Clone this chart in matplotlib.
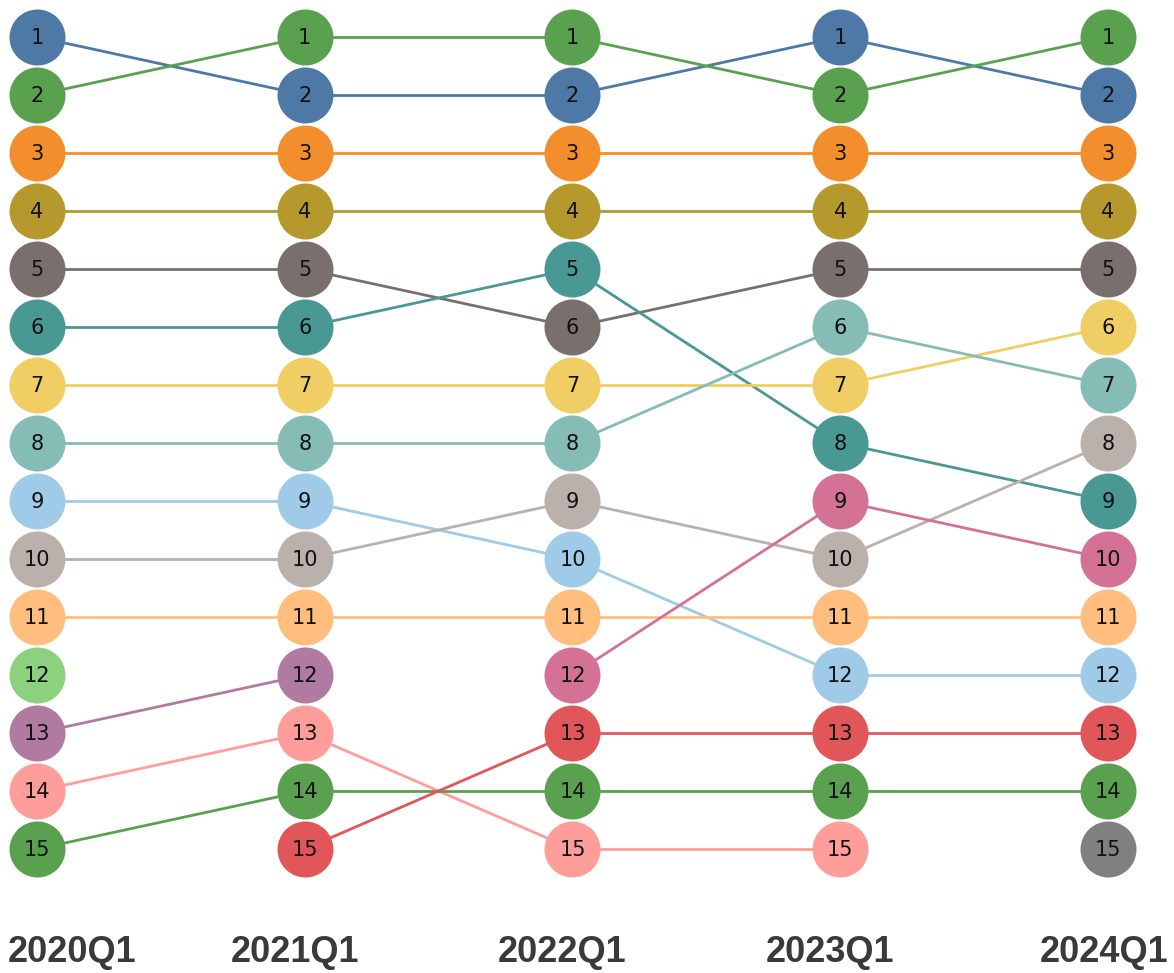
import matplotlib
matplotlib.use("Agg")
import matplotlib.pyplot as plt

periods = ["2020Q1", "2021Q1", "2022Q1", "2023Q1", "2024Q1"]

# rank of each series per period (None = not ranked)
blue = [1, 2, 2, 1, 2]
green = [2, 1, 1, 2, 1]
orange = [3, 3, 3, 3, 3]
olive = [4, 4, 4, 4, 4]
brown = [5, 5, 6, 5, 5]
teal = [6, 6, 5, 8, 9]
yellow = [7, 7, 7, 7, 6]
light_teal = [8, 8, 8, 6, 7]
light_blue = [9, 9, 10, 12, 12]
light_gray = [10, 10, 9, 10, 8]
light_orange = [11, 11, 11, 11, 11]
light_green = [12, None, None, None, None]
purple = [13, 12, None, None, None]
pink = [14, 13, 15, 15, None]
green2 = [15, 14, 14, 14, 14]
red = [None, 15, 13, 13, 13]
mauve = [None, None, 12, 9, 10]
gray = [None, None, None, None, 15]

series = [
    (blue, "#4e79a7"), (green, "#59a14f"), (orange, "#f28e2b"), (olive, "#b6992d"),
    (brown, "#79706e"), (teal, "#499894"), (yellow, "#f1ce63"), (light_teal, "#86bcb6"),
    (light_blue, "#a0cbe8"), (light_gray, "#bab0ac"), (light_orange, "#ffbe7d"),
    (light_green, "#8cd17d"), (purple, "#b07aa1"), (pink, "#ff9d9a"), (green2, "#59a14f"),
    (red, "#e15759"), (mauve, "#d37295"), (gray, "#808080"),
]

W, H = 1174, 973
fig = plt.figure(figsize=(W / 100, H / 100), dpi=100)
ax = fig.add_axes([0, 0, 1, 1])
ax.axis("off")

px_x0, px_step_x = 37, (1108 - 37) / 4
px_y0, px_step_y = 37, (849 - 37) / 14
ax.set_xlim(-px_x0 / px_step_x, (W - px_x0) / px_step_x)
ax.set_ylim(1 + (H - px_y0) / px_step_y, 1 - px_y0 / px_step_y)

diam_pt = 56 * 72 / 100
for ranks, col in series:
    xs = [i for i, r in enumerate(ranks) if r is not None]
    ys = [r for r in ranks if r is not None]
    for i in range(len(ranks) - 1):
        if ranks[i] is not None and ranks[i + 1] is not None:
            ax.plot([i, i + 1], [ranks[i], ranks[i + 1]], color=col, lw=2.0,
                    zorder=1, solid_capstyle="butt")
    ax.scatter(xs, ys, s=diam_pt ** 2, color=col, zorder=2, linewidths=0)
    for x, y in zip(xs, ys):
        ax.text(x, y + 0.02, str(y), ha="center", va="center", fontsize=15,
                color="#111111", zorder=3, family="DejaVu Sans")

label_y = 1 + (953 - px_y0) / px_step_y
n = len(periods)
for i, p in enumerate(periods):
    if i == 0:
        off, ha = (8 - px_x0) * 0.72, "left"
    elif i == n - 1:
        off, ha = (1168 - 1108) * 0.72, "right"
    else:
        off, ha = -10 * 0.72, "center"
    ax.annotate(p, xy=(i, label_y), xytext=(off, 0), textcoords="offset points",
                ha=ha, va="center", fontsize=26, fontweight="bold",
                color="#3a3a3a", family="Liberation Sans")

fig.savefig("out.png", dpi=100)
